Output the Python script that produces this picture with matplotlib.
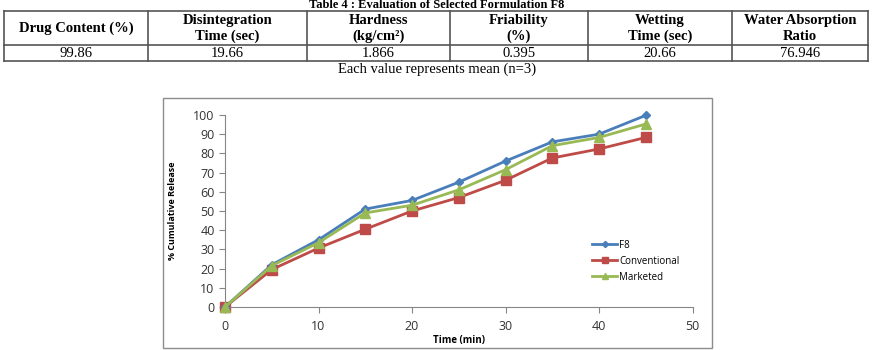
import matplotlib
matplotlib.use("Agg")
import matplotlib.pyplot as plt
from matplotlib.lines import Line2D
from matplotlib.patches import Rectangle

# ---- data ----
table_title = "Table 4 : Evaluation of Selected Formulation F8"
table_headers = ["Drug Content (%)", "Disintegration\nTime (sec)", "Hardness\n(kg/cm²)",
                 "Friability\n(%)", "Wetting\nTime (sec)", "Water Absorption\nRatio"]
table_values = ["99.86", "19.66", "1.866", "0.395", "20.66", "76.946"]
table_note = "Each value represents mean (n=3)"

time_min = [0, 5, 10, 15, 20, 25, 30, 35, 40, 45]
f8 = [0, 22, 35, 51, 55.5, 65, 76, 86, 90, 99.8]
conventional = [0, 19.5, 30.7, 40.5, 50, 57, 66, 77.6, 82.3, 88.3]
marketed = [0, 21.5, 33.5, 49, 53, 61, 71.5, 84, 88.3, 95.3]

W, H = 874, 350
fig = plt.figure(figsize=(W / 100, H / 100), dpi=100)
fig.patch.set_facecolor("white")

def fx(x):
    return x / W

def fy(y):
    return 1 - y / H

# ---- table ----
serif = "Liberation Serif"
col_edges = [4, 148, 307, 450, 588, 732, 868]
row_top, row_mid, row_bot = 11, 45, 61
lc = "#555555"
for x in col_edges:
    fig.add_artist(Line2D([fx(x), fx(x)], [fy(row_top), fy(row_bot)], color=lc, lw=1.2))
for y in (row_top, row_mid, row_bot):
    fig.add_artist(Line2D([fx(col_edges[0]), fx(col_edges[-1])], [fy(y), fy(y)], color=lc, lw=1.2))

fig.text(fx(437), fy(5.5), table_title, family=serif, weight="bold", fontsize=9,
         ha="center", va="center")
for i, (h, v) in enumerate(zip(table_headers, table_values)):
    cx = (col_edges[i] + col_edges[i + 1]) / 2
    fig.text(fx(cx), fy((row_top + row_mid) / 2 + 0.5), h, family=serif, weight="bold",
             fontsize=10.5, ha="center", va="center", linespacing=1.3)
    fig.text(fx(cx), fy((row_mid + row_bot) / 2 + 0.5), v, family=serif, fontsize=10.5,
             ha="center", va="center")
fig.text(fx(437), fy(69), table_note, family=serif, fontsize=10.5, ha="center", va="center")

# ---- chart box ----
fig.add_artist(Rectangle((fx(163), fy(348)), fx(712) - fx(163), fy(98) - fy(348),
                         transform=fig.transFigure, fill=False, edgecolor="#8c8c8c", lw=1.0))

x0, x1 = 225, 692.5
y0, y1 = 307, 115
ax = fig.add_axes([fx(x0), fy(y0), fx(x1) - fx(x0), fy(y1) - fy(y0)])
ax.set_facecolor("none")

sans = ["Open Sans", "DejaVu Sans"]
blue, red, green = "#4A7EBB", "#BE4B48", "#98B954"
ax.plot(time_min, f8, color=blue, lw=2, marker="D", ms=4.5, label="F8", clip_on=False, zorder=3)
ax.plot(time_min, conventional, color=red, lw=2, marker="s", ms=6.5, label="Conventional",
        clip_on=False, zorder=2)
ax.plot(time_min, marketed, color=green, lw=2, marker="^", ms=6.5, label="Marketed",
        clip_on=False, zorder=4)

ax.set_xlim(0, 50)
ax.set_ylim(0, 100)
ax.set_xticks(range(0, 51, 10))
ax.set_yticks(range(0, 101, 10))
for s in ("top", "right"):
    ax.spines[s].set_visible(False)
for s in ("left", "bottom"):
    ax.spines[s].set_color("#868686")
    ax.spines[s].set_linewidth(0.8)
ax.tick_params(axis="both", colors="#868686", length=4, width=0.8, labelcolor="#333333",
               labelsize=9)
ax.tick_params(axis="x", pad=5)
for lab in ax.get_xticklabels() + ax.get_yticklabels():
    lab.set_family(sans)

ax.set_xlabel("Time (min)", family=sans, weight="bold", fontsize=7, labelpad=1.5)
ax.set_ylabel("% Cumulative Release", family=sans, weight="bold", fontsize=6.5, labelpad=12)

leg = ax.legend(loc="upper left", bbox_to_anchor=((588 - x0) / (x1 - x0), (y0 - 236) / (y0 - y1)),
                frameon=False, prop={"family": sans, "size": 7}, handlelength=2.6,
                handletextpad=0.2, labelspacing=0.5, borderaxespad=0, markerscale=0.7)

fig.savefig("out.png", dpi=100, facecolor="white")
